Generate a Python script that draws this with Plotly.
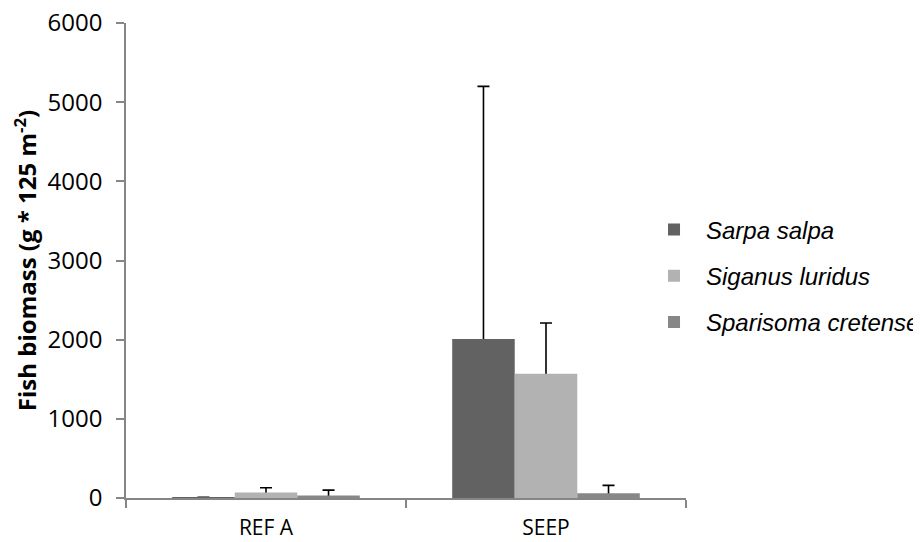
import plotly.graph_objects as go

sites = ["REF A", "SEEP"]
species = ["Sarpa salpa", "Siganus luridus", "Sparisoma cretense"]
sarpa = [8, 2010]
sarpa_err = [None, 3190]
siganus = [70, 1570]
siganus_err = [60, 640]
sparisoma = [33, 60]
sparisoma_err = [67, 100]
colors = ["#626262", "#b2b2b2", "#878787"]
y_ticks = [0, 1000, 2000, 3000, 4000, 5000, 6000]

values = [sarpa, siganus, sparisoma]
errors = [sarpa_err, siganus_err, sparisoma_err]

fig = go.Figure()
# error bars first (symmetric, lower half hidden behind the bars drawn later)
for i, (name, vals, errs) in enumerate(zip(species, values, errors)):
    fig.add_trace(go.Bar(
        x=sites, y=vals, name=name, legendgroup=name, showlegend=False,
        offsetgroup=str(i), hoverinfo="skip",
        marker=dict(color="rgba(0,0,0,0)", line=dict(width=0)),
        error_y=dict(type="data", symmetric=True, array=errs,
                     color="black", thickness=1.6, width=6),
    ))
for i, (name, vals) in enumerate(zip(species, values)):
    fig.add_trace(go.Bar(
        x=sites, y=vals, name=name, legendgroup=name, offsetgroup=str(i),
        marker=dict(color=colors[i], line=dict(width=0)),
    ))

fig.update_layout(
    width=921, height=542,
    paper_bgcolor="white", plot_bgcolor="white",
    margin=dict(l=118, r=243, t=15, b=52, autoexpand=False),
    barmode="group", bargap=0.33, bargroupgap=0,
    font=dict(family="Open Sans", size=20, color="black"),
    showlegend=True,
    legend=dict(xref="container", yref="container",
                x=0.6884, xanchor="left", y=0.632, yanchor="top",
                font=dict(family="Liberation Sans", size=24, style="italic"),
                itemwidth=54, tracegroupgap=12, bgcolor="rgba(0,0,0,0)"),
    xaxis=dict(type="category", range=[-0.5, 1.5], tickson="boundaries",
               ticks="outside", ticklen=8, tickcolor="#868686", tickwidth=1.5,
               showline=True, linecolor="#868686", linewidth=1.5,
               showgrid=False, zeroline=False, automargin=False,
               ticklabelstandoff=10, ticklabeloverflow="allow",
               tickfont=dict(family="Open Sans", size=21)),
    yaxis=dict(range=[0, 6000], tickvals=y_ticks,
               ticks="outside", ticklen=8, tickcolor="#868686", tickwidth=1.5,
               showline=True, linecolor="#868686", linewidth=1.5,
               showgrid=False, zeroline=False, automargin=False,
               ticklabelstandoff=9, ticklabeloverflow="allow",
               tickfont=dict(family="Open Sans", size=24),
               title=dict(text="<b>Fish biomass (g * 125 m<sup>-2</sup>)</b>",
                          font=dict(family="Open Sans", size=24),
                          standoff=27)),
)

fig.write_html("out.html")
